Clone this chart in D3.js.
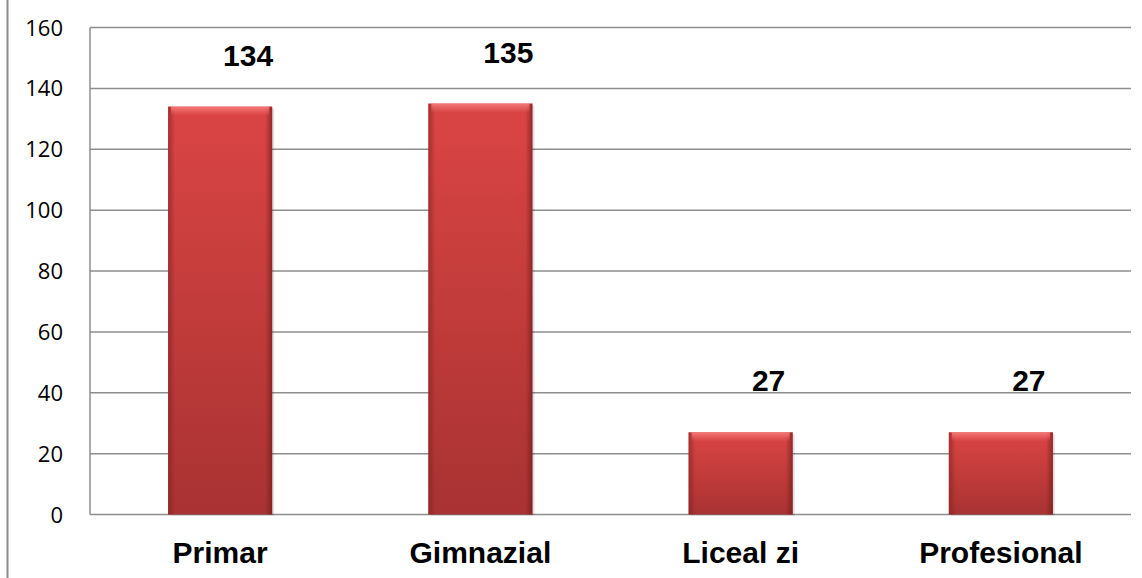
<!DOCTYPE html>
<html>
<head>
<meta charset="utf-8">
<script src="https://cdn.jsdelivr.net/npm/d3@7"></script>
<style>
  body { margin: 0; background: #fff; }
  svg { display: block; }
</style>
</head>
<body>
<svg id="chart" width="1142" height="578"></svg>
<script>
var categories = ["Primar", "Gimnazial", "Liceal zi", "Profesional"];
var values = [134, 135, 27, 27];
var yTicks = [0, 20, 40, 60, 80, 100, 120, 140, 160];

var svg = d3.select("#chart");
var plotLeft = 90, plotRight = 1131, plotTop = 27.5, plotBottom = 514.5;

// outer frame line on the left
svg.append("line")
	.attr("x1", 7.5).attr("x2", 7.5)
	.attr("y1", 0).attr("y2", 578)
	.attr("stroke", "#8c8c8c").attr("stroke-width", 2);

var x = d3.scaleBand()
	.domain(categories)
	.range([plotLeft, plotRight])
	.paddingInner(0.6)
	.paddingOuter(0.3);

var y = d3.scaleLinear()
	.domain([0, 160])
	.range([plotBottom, plotTop]);

var defs = svg.append("defs");
var g1 = defs.append("linearGradient").attr("id", "barFill")
	.attr("x1", 0).attr("y1", 0).attr("x2", 0).attr("y2", 1);
g1.append("stop").attr("offset", "0%").attr("stop-color", "#da4544");
g1.append("stop").attr("offset", "100%").attr("stop-color", "#a93232");

var g2 = defs.append("linearGradient").attr("id", "edgeL")
	.attr("x1", 0).attr("y1", 0).attr("x2", 1).attr("y2", 0);
g2.append("stop").attr("offset", "0%").attr("stop-color", "#7a1e1e").attr("stop-opacity", 0.55);
g2.append("stop").attr("offset", "100%").attr("stop-color", "#7a1e1e").attr("stop-opacity", 0);

var g3 = defs.append("linearGradient").attr("id", "edgeR")
	.attr("x1", 1).attr("y1", 0).attr("x2", 0).attr("y2", 0);
g3.append("stop").attr("offset", "0%").attr("stop-color", "#6e1a1a").attr("stop-opacity", 0.65);
g3.append("stop").attr("offset", "100%").attr("stop-color", "#6e1a1a").attr("stop-opacity", 0);

var g4 = defs.append("linearGradient").attr("id", "edgeT")
	.attr("x1", 0).attr("y1", 0).attr("x2", 0).attr("y2", 1);
g4.append("stop").attr("offset", "0%").attr("stop-color", "#f47878").attr("stop-opacity", 1);
g4.append("stop").attr("offset", "100%").attr("stop-color", "#f07070").attr("stop-opacity", 0);

// gridlines
svg.append("g")
	.selectAll("line")
	.data(yTicks)
	.enter()
	.append("line")
	.attr("x1", plotLeft).attr("x2", plotRight)
	.attr("y1", function(d) { return y(d); })
	.attr("y2", function(d) { return y(d); })
	.attr("stroke", "#8e8e8e").attr("stroke-width", 1.5);

svg.append("line")
	.attr("x1", plotLeft).attr("x2", plotLeft)
	.attr("y1", plotTop).attr("y2", plotBottom)
	.attr("stroke", "#8e8e8e").attr("stroke-width", 1.5);

// y tick labels
svg.append("g")
	.selectAll("text")
	.data(yTicks)
	.enter()
	.append("text")
	.attr("x", 63)
	.attr("y", function(d) { return y(d) + 8; })
	.attr("text-anchor", "end")
	.attr("font-family", "Open Sans, sans-serif")
	.attr("font-size", 22)
	.attr("fill", "#000")
	.text(function(d) { return d; });

var bars = svg.append("g").selectAll("g.bar")
	.data(values)
	.enter()
	.append("g")
	.classed("bar", true);

bars.append("rect")
	.attr("x", function(d, i) { return x(categories[i]) + 2; })
	.attr("y", function(d) { return y(d) + 2; })
	.attr("width", x.bandwidth())
	.attr("height", function(d) { return plotBottom - y(d) - 1; })
	.attr("fill", "#000").attr("opacity", 0.12);

bars.append("rect")
	.attr("x", function(d, i) { return x(categories[i]); })
	.attr("y", function(d) { return y(d); })
	.attr("width", x.bandwidth())
	.attr("height", function(d) { return plotBottom - y(d); })
	.attr("fill", "url(#barFill)");

bars.append("rect")
	.attr("x", function(d, i) { return x(categories[i]); })
	.attr("y", function(d) { return y(d); })
	.attr("width", 7)
	.attr("height", function(d) { return plotBottom - y(d); })
	.attr("fill", "url(#edgeL)");

bars.append("rect")
	.attr("x", function(d, i) { return x(categories[i]) + x.bandwidth() - 7; })
	.attr("y", function(d) { return y(d); })
	.attr("width", 7)
	.attr("height", function(d) { return plotBottom - y(d); })
	.attr("fill", "url(#edgeR)");

bars.append("rect")
	.attr("x", function(d, i) { return x(categories[i]) + 3; })
	.attr("y", function(d) { return y(d); })
	.attr("width", x.bandwidth() - 6)
	.attr("height", 9)
	.attr("fill", "url(#edgeT)");

// value labels
svg.append("g")
	.selectAll("text")
	.data(values)
	.enter()
	.append("text")
	.attr("x", function(d, i) { return x(categories[i]) + x.bandwidth() / 2 + 28; })
	.attr("y", function(d) { return y(d) - 41; })
	.attr("text-anchor", "middle")
	.attr("font-family", "Liberation Sans, Arial, sans-serif")
	.attr("font-weight", "bold")
	.attr("font-size", 30)
	.attr("fill", "#000")
	.text(function(d) { return d; });

// category labels
svg.append("g")
	.selectAll("text")
	.data(categories)
	.enter()
	.append("text")
	.attr("x", function(d) { return x(d) + x.bandwidth() / 2; })
	.attr("y", 563)
	.attr("text-anchor", "middle")
	.attr("font-family", "Liberation Sans, Arial, sans-serif")
	.attr("font-weight", "bold")
	.attr("font-size", 30)
	.attr("fill", "#000")
	.text(function(d) { return d; });
</script>
</body>
</html>
